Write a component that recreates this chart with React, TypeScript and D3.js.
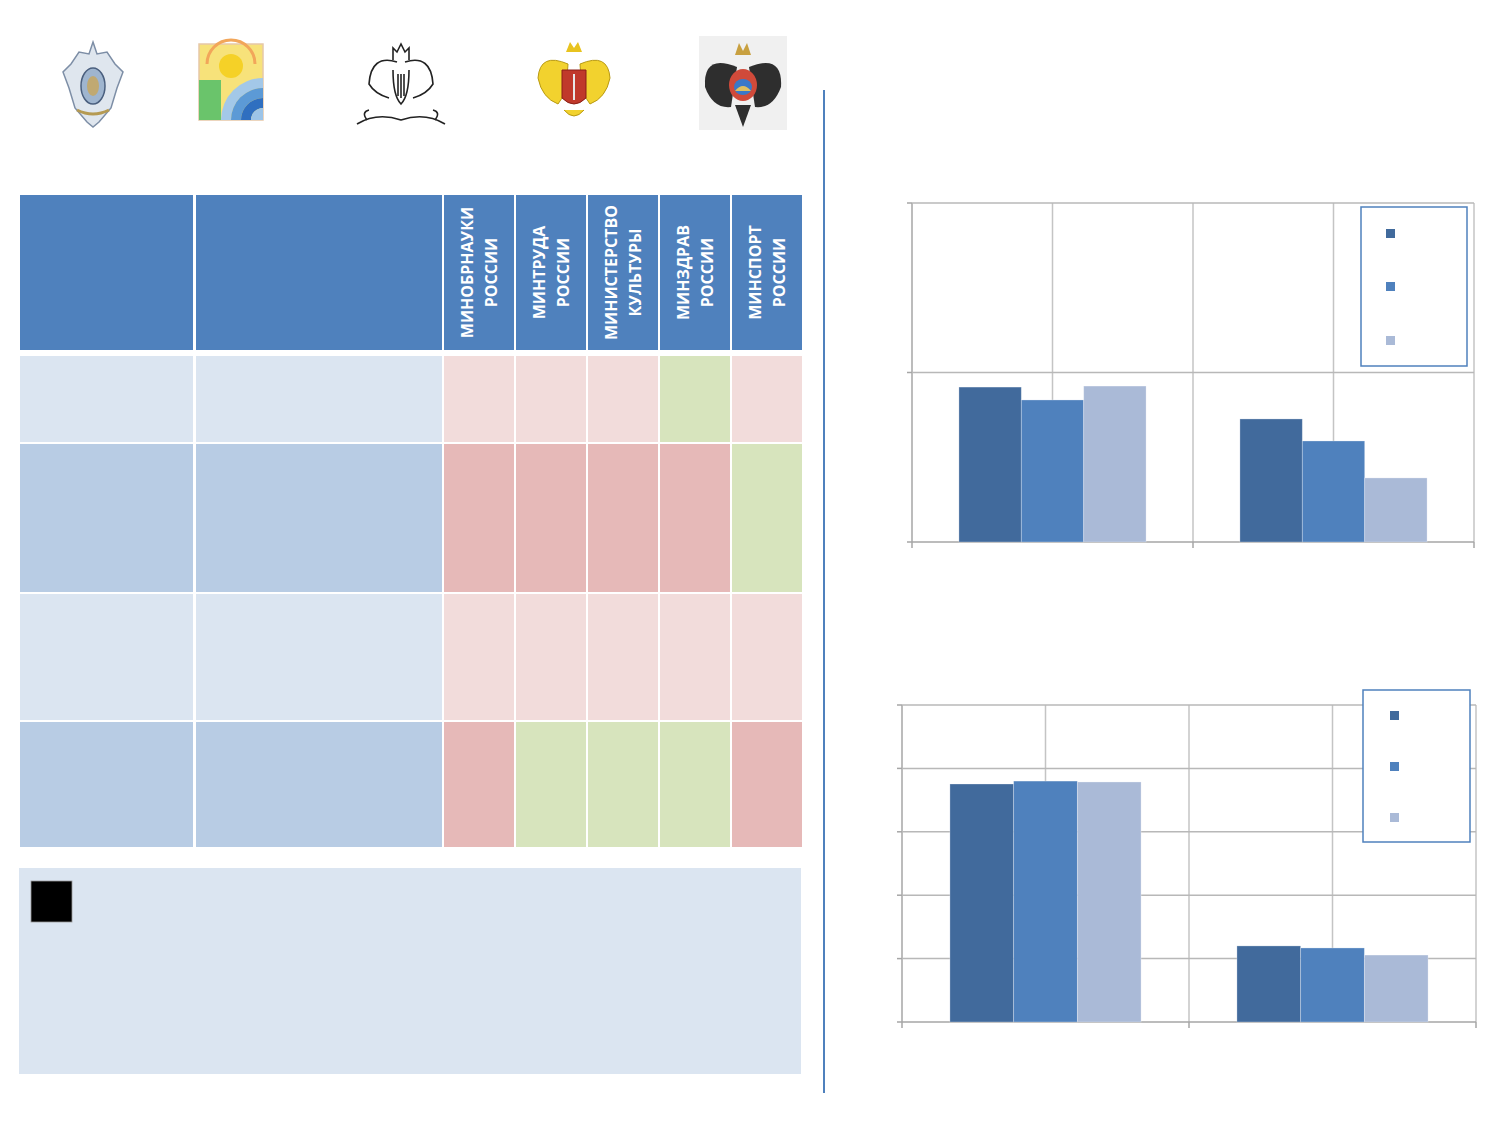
import React from "react";
import * as d3 from "d3";

// ---- table data ----
const ministries = [
  ["МИНОБРНАУКИ", "РОССИИ"],
  ["МИНТРУДА", "РОССИИ"],
  ["МИНИСТЕРСТВО", "КУЛЬТУРЫ"],
  ["МИНЗДРАВ", "РОССИИ"],
  ["МИНСПОРТ", "РОССИИ"],
];
// status per row / ministry: "l" light red, "d" dark red, "g" green
const rowStatus = [
  ["l", "l", "l", "g", "l"],
  ["d", "d", "d", "d", "g"],
  ["l", "l", "l", "l", "l"],
  ["d", "g", "g", "g", "d"],
];
const rowHeights = [86, 148, 126, 125];

// ---- chart data ----
const categories = ["cat1", "cat2"];
const seriesNames = ["s1", "s2", "s3"];
const chart1Values = [
  [45.7, 36.3],
  [41.9, 29.8],
  [46.0, 18.9],
];
const chart2Values = [
  [187.7, 60.0],
  [190.0, 58.4],
  [189.3, 52.8],
];

const seriesColors = ["#416a9c", "#4f81bd", "#aabad7"];
const statusColors: Record<string, string> = { l: "#f2dcdb", d: "#e6b9b8", g: "#d7e4bd" };
const rowFill = ["#dbe5f1", "#b8cce4", "#dbe5f1", "#b8cce4"];

interface BarChartProps {
  x: [number, number];
  y: [number, number];
  maxValue: number;
  tickCount: number;
  values: number[][];
  legend: { x: number; y: number; w: number; h: number; markerX: number; markerYs: number[] };
}

function BarChart({ x, y, maxValue, tickCount, values, legend }: BarChartProps) {
  const x0 = d3.scaleBand<string>().domain(categories).range(x).padding(0);
  const bw = x0.bandwidth();
  const gap = bw * 0.167;
  const x1 = d3.scaleBand<string>().domain(seriesNames).range([gap, bw - gap]).padding(0);
  const yScale = d3.scaleLinear().domain([0, maxValue]).range([y[1], y[0]]);
  const yTicks = yScale.ticks(tickCount);
  const vLines = categories.flatMap((c) => [x0(c)!, x0(c)! + bw / 2]).concat([x[1]]);
  const catEdges = categories.map((c) => x0(c)!).concat([x[1]]);

  return (
    <g>
      {vLines.map((vx, i) => (
        <line key={"v" + i} x1={vx} x2={vx} y1={y[0]} y2={y[1]} stroke={i === 0 ? "#a6a6a6" : "#c4c4c4"} strokeWidth={1.5} />
      ))}
      {yTicks.map((t) => (
        <g key={"h" + t}>
          <line x1={x[0]} x2={x[1]} y1={yScale(t)} y2={yScale(t)} stroke={t === 0 ? "#a6a6a6" : "#b8b8b8"} strokeWidth={1.5} />
          <line x1={x[0] - 5} x2={x[0]} y1={yScale(t)} y2={yScale(t)} stroke="#a6a6a6" strokeWidth={1.5} />
        </g>
      ))}
      {catEdges.map((cx, i) => (
        <line key={"t" + i} x1={cx} x2={cx} y1={y[1]} y2={y[1] + 6} stroke="#a6a6a6" strokeWidth={1.5} />
      ))}
      {seriesNames.map((s, si) =>
        categories.map((c, ci) => {
          const v = values[si][ci];
          return (
            <rect
              key={s + c}
              x={x0(c)! + x1(s)!}
              y={yScale(v)}
              width={x1.bandwidth()}
              height={yScale(0) - yScale(v)}
              fill={seriesColors[si]}
              stroke="#ffffff"
              strokeOpacity={0.35}
              strokeWidth={0.8}
            />
          );
        })
      )}
      <rect x={legend.x} y={legend.y} width={legend.w} height={legend.h} fill="#ffffff" stroke="#4f81bd" strokeWidth={1.5} />
      {legend.markerYs.map((my, i) => (
        <rect key={"m" + i} x={legend.markerX} y={my} width={9} height={9} fill={seriesColors[i]} />
      ))}
    </g>
  );
}

function Logos() {
  return (
    <g>
      {/* 1: shield emblem */}
      <g transform="translate(93,84)">
        <path d="M0,-42 L4,-30 L14,-32 L22,-20 L30,-12 L24,4 L18,24 L6,38 L0,43 L-6,38 L-18,24 L-24,4 L-30,-12 L-22,-20 L-14,-32 L-4,-30 Z" fill="#dfe6ee" stroke="#7d8ea6" strokeWidth={1.5} />
        <ellipse cx={0} cy={2} rx={12} ry={18} fill="#9fb5cf" stroke="#4a5f7e" strokeWidth={1.5} />
        <ellipse cx={0} cy={2} rx={6} ry={10} fill="#c8a65a" opacity={0.8} />
        <path d="M-16,26 Q0,34 16,26" fill="none" stroke="#b59a52" strokeWidth={3} />
      </g>
      {/* 2: rainbow */}
      <g transform="translate(199,44)">
        <rect x={0} y={0} width={64} height={76} fill="#f7e27a" stroke="#e6c8a8" strokeWidth={1.5} />
        <circle cx={32} cy={22} r={12} fill="#f5d127" />
        <path d="M8,20 A24,24 0 0 1 56,20" fill="none" stroke="#f2a65a" strokeWidth={3} />
        <path d="M0,36 L22,36 L22,76 L0,76 Z" fill="#6ac46b" />
        <path d="M22,76 A42,42 0 0 1 64,34 L64,44 A32,32 0 0 0 32,76 Z" fill="#a3c8e8" />
        <path d="M32,76 A32,32 0 0 1 64,44 L64,54 A22,22 0 0 0 42,76 Z" fill="#5c9ad6" />
        <path d="M42,76 A22,22 0 0 1 64,54 L64,64 A12,12 0 0 0 52,76 Z" fill="#2f6fc0" />
        <path d="M52,76 A12,12 0 0 1 64,64 L64,76 Z" fill="#9cc4e8" />
      </g>
      {/* 3: black eagle */}
      <g transform="translate(401,84)" fill="none" stroke="#222" strokeWidth={1.6}>
        <path d="M-4,-22 Q-30,-30 -32,0 Q-26,10 -12,14" />
        <path d="M4,-22 Q30,-30 32,0 Q26,10 12,14" />
        <path d="M-8,-24 L-8,-36 L-4,-32 L0,-40 L4,-32 L8,-36 L8,-24" />
        <path d="M-8,-14 Q-8,12 0,20 Q8,12 8,-14" />
        <line x1={-3} y1={-10} x2={-3} y2={12} />
        <line x1={0} y1={-10} x2={0} y2={14} />
        <line x1={3} y1={-10} x2={3} y2={12} />
        <path d="M-44,40 Q-24,28 0,36 Q24,28 44,40" />
        <path d="M-34,36 q-6,-8 2,-10 M34,36 q6,-8 -2,-10" />
      </g>
      {/* 4: golden eagle with red shield */}
      <g transform="translate(574,82)">
        <path d="M-6,-18 Q-34,-30 -36,-4 Q-32,16 -16,22 L-8,10 Z" fill="#f2d22e" stroke="#b99a12" strokeWidth={1} />
        <path d="M6,-18 Q34,-30 36,-4 Q32,16 16,22 L8,10 Z" fill="#f2d22e" stroke="#b99a12" strokeWidth={1} />
        <path d="M-8,-30 L-4,-40 L0,-34 L4,-40 L8,-30 Z" fill="#e8c31f" />
        <path d="M-12,-12 L12,-12 L12,16 Q0,28 -12,16 Z" fill="#c0392b" stroke="#8a1f16" strokeWidth={1} />
        <path d="M0,-8 L0,18" stroke="#e8e8e8" strokeWidth={2} />
        <path d="M-10,28 Q0,40 10,28" fill="#f2d22e" stroke="#b99a12" strokeWidth={1} />
      </g>
      {/* 5: dark eagle on grey */}
      <g transform="translate(743,83)">
        <rect x={-44} y={-47} width={88} height={94} fill="#f0f0f0" />
        <path d="M-6,-16 Q-40,-30 -38,4 Q-30,26 -12,24 Z" fill="#2e2e2e" />
        <path d="M6,-16 Q40,-30 38,4 Q30,26 12,24 Z" fill="#2e2e2e" />
        <path d="M-8,-28 L-4,-40 L0,-32 L4,-40 L8,-28 Z" fill="#c8a040" />
        <ellipse cx={0} cy={2} rx={14} ry={16} fill="#d04a3a" />
        <ellipse cx={0} cy={4} rx={9} ry={8} fill="#3a78c8" />
        <path d="M-8,8 Q0,-2 8,8" fill="#e0c060" />
        <path d="M-8,22 L0,44 L8,22 Z" fill="#2e2e2e" />
      </g>
    </g>
  );
}

export default function App() {
  const tableX = [20, 196, 444];
  const colW = 72;
  const headerY = 195;
  const headerH = 155;
  const bodyTop = 356;
  const rowYs = rowHeights.reduce<number[]>((acc, h, i) => {
    acc.push(i === 0 ? bodyTop : acc[i - 1] + rowHeights[i - 1] + 2);
    return acc;
  }, []);

  return (
    <svg
      width={1500}
      height={1125}
      style={{ position: "absolute", left: 0, top: 0, background: "#ffffff" }}
      fontFamily="'Open Sans', sans-serif"
    >
      <rect width={1500} height={1125} fill="#ffffff" />
      <Logos />

      {/* table header */}
      <rect x={20} y={headerY} width={173} height={headerH} fill="#4f81bd" />
      <rect x={196} y={headerY} width={246} height={headerH} fill="#4f81bd" />
      {ministries.map((m, i) => {
        const cx = tableX[2] + i * colW + 35;
        const cy = headerY + headerH / 2;
        return (
          <g key={m[0]}>
            <rect x={tableX[2] + i * colW} y={headerY} width={70} height={headerH} fill="#4f81bd" />
            <text
              transform={`translate(${cx},${cy}) rotate(-90)`}
              textAnchor="middle"
              fill="#ffffff"
              fontWeight="bold"
              fontSize={16}
            >
              <tspan x={0} dy={-6.5}>{m[0]}</tspan>
              <tspan x={0} dy={24}>{m[1]}</tspan>
            </text>
          </g>
        );
      })}

      {/* table body */}
      {rowStatus.map((row, ri) => (
        <g key={"r" + ri}>
          <rect x={20} y={rowYs[ri]} width={173} height={rowHeights[ri]} fill={rowFill[ri]} />
          <rect x={196} y={rowYs[ri]} width={246} height={rowHeights[ri]} fill={rowFill[ri]} />
          {row.map((s, ci) => (
            <rect
              key={ci}
              x={tableX[2] + ci * colW}
              y={rowYs[ri]}
              width={70}
              height={rowHeights[ri]}
              fill={statusColors[s]}
            />
          ))}
        </g>
      ))}

      {/* note box */}
      <rect x={19} y={868} width={782} height={206} fill="#dbe5f1" />
      <rect x={31} y={881} width={41} height={41} fill="#000000" stroke="#9a9a9a" strokeWidth={0.8} />

      {/* separator */}
      <line x1={824} x2={824} y1={90} y2={1093} stroke="#4f81bd" strokeWidth={2} />

      <BarChart
        x={[912, 1474]}
        y={[203, 542]}
        maxValue={100}
        tickCount={2}
        values={chart1Values}
        legend={{ x: 1361, y: 207, w: 106, h: 159, markerX: 1386, markerYs: [229, 282, 336] }}
      />
      <BarChart
        x={[902, 1476]}
        y={[705, 1022]}
        maxValue={250}
        tickCount={5}
        values={chart2Values}
        legend={{ x: 1363, y: 690, w: 107, h: 152, markerX: 1390, markerYs: [711, 762, 813] }}
      />
    </svg>
  );
}
